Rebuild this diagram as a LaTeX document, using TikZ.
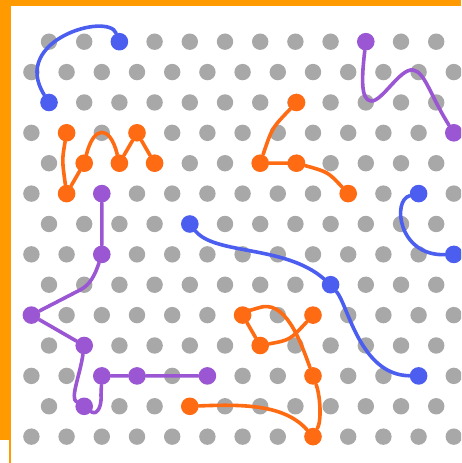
\documentclass[tikz,border=0pt]{standalone}
\usepackage{tikz}
\definecolor{myblue}{HTML}{4B5EF0}
\definecolor{myorange}{HTML}{FF6B12}
\definecolor{mypurple}{HTML}{9B57D3}
\definecolor{myframe}{HTML}{FF9A00}
\definecolor{mygray}{HTML}{A8A8A8}
\tikzset{
	pegnode/.style={
			circle,
			inner sep=0pt,
			minimum size=4.4mm
		},
	bluenode/.style={pegnode, fill=myblue},
	orangenode/.style={pegnode, fill=myorange},
	purplenode/.style={pegnode, fill=mypurple},
	wire/.style={
			line width=0.9mm,
			line cap=round,
			line join=round
		},
	bluewire/.style={wire, draw=myblue},
	orangewire/.style={wire, draw=myorange},
	purplewire/.style={wire, draw=mypurple}
}

\begin{document}
\begin{tikzpicture}[x=0.25mm, y=-0.25mm]

  \useasboundingbox (0,0) rectangle (461,463);
  \clip (0,0) rectangle (461,463);
  \fill[white] (0,0) rectangle (461,463);

  % frame
  \fill[myframe] (0,0) rectangle (461,6);
  \fill[myframe] (0,0) rectangle (10.5,440);
  \fill[myframe] (8.5,440) rectangle (10.5,463);

  % board of pegs
  \foreach \r in {0,...,13}{
    \pgfmathsetmacro{\yy}{41.7+30.38*\r}
    \pgfmathsetmacro{\xo}{mod(\r,2)==0 ? 49 : 31.4}
    \foreach \k in {0,...,12}
      \fill[mygray] ({\xo+35.2*\k},\yy) circle (8.2);
  }

  % blue
  \node[bluenode] (b1s) at (119.4,41.7) {};
  \node[bluenode] (b1e) at (49.0,102.5) {};
  \node[bluenode] (b2a) at (418.6,193.6) {};
  \node[bluenode] (b2b) at (453.8,254.4) {};
  \node[bluenode] (b3a) at (189.8,224.0) {};
  \node[bluenode] (b3b) at (330.6,284.7) {};
  \node[bluenode] (b3c) at (418.6,375.9) {};

  % orange
  \node[orangenode] (o1a) at (66.6,132.8) {};
  \node[orangenode] (o1b) at (66.6,193.6) {};
  \node[orangenode] (o1c) at (84.2,163.2) {};
  \node[orangenode] (o1d) at (119.4,163.2) {};
  \node[orangenode] (o1e) at (137.0,132.8) {};
  \node[orangenode] (o1f) at (154.6,163.2) {};
  \node[orangenode] (o2a) at (296.5,102.5) {};
  \node[orangenode] (o2b) at (260.2,163.2) {};
  \node[orangenode] (o2c) at (296.5,163.2) {};
  \node[orangenode] (o2d) at (348.2,193.6) {};
  \node[orangenode] (o3a) at (189.8,406.3) {};
  \node[orangenode] (o3b) at (313.0,436.6) {};
  \node[orangenode] (o3c) at (313.0,375.9) {};
  \node[orangenode] (o3d) at (242.6,315.1) {};
  \node[orangenode] (o3e) at (260.2,345.5) {};
  \node[orangenode] (o3f) at (313.0,315.1) {};

  % purple
  \node[purplenode] (p1a) at (365.8,41.7) {};
  \node[purplenode] (p1b) at (453.8,132.8) {};
  \node[purplenode] (p2a) at (101.8,193.6) {};
  \node[purplenode] (p2b) at (101.8,254.4) {};
  \node[purplenode] (p2c) at (31.4,315.1) {};
  \node[purplenode] (p2d) at (84.2,345.5) {};
  \node[purplenode] (p2e) at (84.2,406.3) {};
  \node[purplenode] (p2f) at (101.8,375.9) {};
  \node[purplenode] (p2g) at (137.0,375.9) {};
  \node[purplenode] (p2h) at (207.4,375.9) {};

  % wires
  \draw[bluewire] (b1s) .. controls (108,12) and (10,40) .. (b1e);
  \draw[bluewire] (b2a) .. controls (392,200) and (398,256) .. (b2b);
  \draw[bluewire] (b3a) .. controls (215,255) and (285,245) .. (b3b)
    .. controls (348,305) and (360,375) .. (b3c);

  \draw[orangewire] (o1a) .. controls (62,160) .. (o1b) -- (o1c)
    .. controls (94,125) and (110,125) .. (o1d) -- (o1e) -- (o1f);
  \draw[orangewire] (o2a) .. controls (272,128) .. (o2b) -- (o2c)
    .. controls (328,172) .. (o2d);
  \draw[orangewire] (o3a) .. controls (245,404) and (285,405) .. (o3b)
    .. controls (322,420) and (320,395) .. (o3c)
    .. controls (300,340) and (285,298) .. (258,308)
    .. controls (248,311) .. (o3d) -- (o3e)
    .. controls (290,340) .. (o3f);

  \draw[purplewire] (p1a) .. controls (362,75) and (360,100) .. (371,101)
    .. controls (382,102) and (400,68) .. (413,70)
    .. controls (425,72) and (430,95) .. (p1b);
  \draw[purplewire] (p2a) -- (p2b)
    .. controls (95,275) and (90,285) .. (80,290) -- (p2c) -- (p2d)
    .. controls (80,375) and (70,398) .. (p2e)
    .. controls (95,415) and (102,410) .. (101,395) -- (p2f)
    -- (p2g) -- (p2h);

\end{tikzpicture}
\end{document}
